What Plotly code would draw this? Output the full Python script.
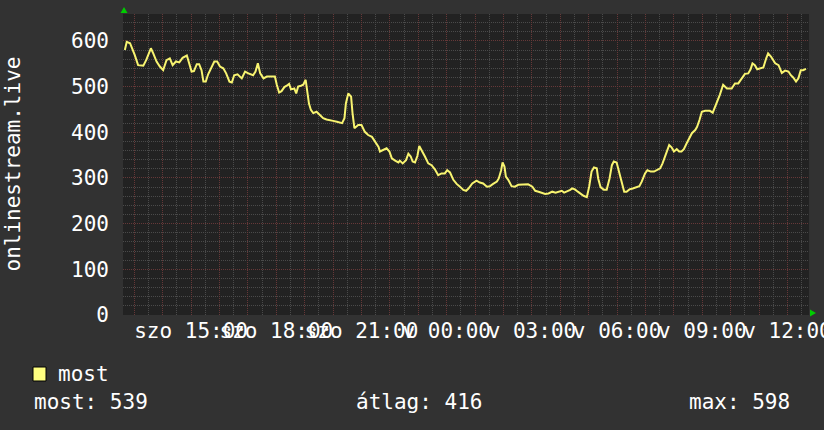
import plotly.graph_objects as go

# minutes since Saturday 12:00
minutes = [40, 44, 51, 57, 61, 68, 79, 85, 90, 95, 100, 107, 114, 121, 128, 135, 141, 148, 155, 162,
           171, 176, 181, 186, 192, 197, 202, 206, 211, 216, 224, 229, 235, 241, 248, 254, 261, 266, 271, 278,
           287, 294, 301, 311, 316, 321, 326, 333, 340, 349, 357, 361, 366, 371, 377, 382, 387, 391, 398, 402,
           406, 412, 417, 422, 426, 429, 433, 438, 445, 452, 459, 466, 473, 480, 488, 495, 499, 504, 507, 512,
           518, 521, 525, 533, 540, 547, 554, 562, 569, 576, 579, 586, 593, 599, 604, 611, 618, 621, 627, 634,
           639, 644, 648, 653, 658, 662, 667, 674, 681, 688, 695, 702, 709, 716, 721, 727, 734, 741, 748, 755,
           761, 766, 774, 783, 790, 797, 805, 811, 818, 826, 830, 835, 838, 842, 845, 850, 857, 864, 871, 882,
           892, 901, 907, 914, 922, 928, 935, 943, 950, 956, 963, 968, 974, 981, 985, 991, 997, 1002, 1009, 1016,
           1021, 1026, 1031, 1037, 1040, 1045, 1052, 1058, 1064, 1069, 1073, 1079, 1085, 1090, 1095, 1100, 1106, 1113, 1120, 1127,
           1132, 1139, 1144, 1151, 1158, 1165, 1171, 1176, 1181, 1186, 1190, 1195, 1200, 1206, 1211, 1216, 1221, 1227, 1232, 1238,
           1245, 1249, 1254, 1259, 1266, 1276, 1282, 1287, 1292, 1297, 1304, 1312, 1322, 1329, 1336, 1343, 1350, 1357, 1362, 1366,
           1371, 1376, 1383, 1389, 1395, 1399, 1405, 1409, 1414, 1421, 1428, 1435, 1442, 1447, 1452, 1458, 1463, 1468, 1473, 1479]

most = [580, 598, 595, 580, 569, 547, 546, 558, 573, 584, 573, 555, 544, 536, 558, 562, 547, 555, 553, 563,
        568, 551, 533, 534, 549, 549, 536, 511, 511, 527, 544, 555, 555, 544, 540, 529, 511, 509, 525, 527,
        518, 533, 529, 525, 533, 551, 529, 518, 522, 522, 522, 504, 487, 490, 499, 502, 506, 494, 496, 485,
        500, 502, 504, 515, 485, 463, 449, 442, 445, 438, 431, 428, 427, 425, 423, 420, 420, 431, 463, 485,
        478, 442, 409, 416, 416, 401, 394, 390, 379, 368, 358, 361, 365, 358, 343, 338, 334, 338, 332, 339,
        353, 347, 336, 334, 348, 370, 361, 347, 332, 328, 319, 306, 310, 310, 317, 312, 296, 287, 281, 274,
        272, 277, 288, 294, 290, 288, 281, 282, 287, 292, 299, 317, 334, 325, 303, 296, 282, 281, 285, 286,
        286, 281, 272, 270, 268, 265, 266, 270, 268, 270, 272, 268, 270, 274, 277, 275, 270, 266, 261, 258,
        281, 314, 323, 321, 299, 280, 274, 274, 299, 328, 336, 334, 310, 285, 270, 270, 275, 277, 280, 282,
        292, 310, 317, 314, 314, 317, 321, 332, 347, 358, 372, 367, 358, 363, 358, 358, 363, 376, 387, 398,
        405, 412, 427, 445, 447, 447, 443, 456, 467, 482, 504, 496, 496, 507, 507, 518, 528, 529, 538, 551,
        547, 538, 540, 542, 562, 573, 566, 558, 551, 547, 530, 535, 533, 525, 520, 511, 518, 536, 536, 539]

label_minutes = [180, 360, 540, 720, 900, 1080, 1260, 1440]
label_texts = ["szo 15:00", "szo 18:00", "szo 21:00", "v 00:00", "v 03:00", "v 06:00", "v 09:00", "v 12:00"]
y_ticks = [0, 100, 200, 300, 400, 500, 600]
y_title = "onlinestream.live"
legend_name = "most"
stat_texts = ["most: 539", "átlag: 416", "max: 598"]

W, H = 824, 430
L, R, T, B = 123, 809, 14, 315
FONT = "DejaVu Sans Mono"
BG = "#323232"
CANVAS = "#222222"
MAJ = "#663838"
MIN = "#4a4a4a"
LINE = "#f8f470"


def px(x):
    return (x - L) / (R - L)


def py(y):
    return (B - y) / (B - T)


hour_vals = list(range(60, 1441, 60))
hour_text = [label_texts[label_minutes.index(v)] if v in label_minutes else "" for v in hour_vals]
half_hours = list(range(30, 1500, 60))

fig = go.Figure()
fig.add_trace(go.Scatter(x=minutes, y=most, mode="lines", line=dict(color=LINE, width=2),
                         name=legend_name, showlegend=False, hoverinfo="skip"))

fig.update_layout(
    width=W, height=H,
    margin=dict(l=L, r=W - R, t=T, b=H - B, pad=0, autoexpand=False),
    paper_bgcolor=BG, plot_bgcolor=CANVAS,
    font=dict(family=FONT, size=21, color="#ffffff"),
    showlegend=False,
    xaxis=dict(range=[36.1, 1485.4], tickmode="array", tickvals=hour_vals, ticktext=hour_text,
               tickangle=0, showgrid=True, gridcolor=MAJ, griddash="1px,1px", gridwidth=1,
               ticks="", ticklabelstandoff=1, ticklabeloverflow="allow", automargin=False,
               zeroline=False, showline=False,
               tickfont=dict(family=FONT, size=21, color="#ffffff"),
               minor=dict(tickmode="array", tickvals=half_hours, showgrid=True, gridcolor=MIN,
                          griddash="1px,1px", gridwidth=1, ticks=""),
               fixedrange=True),
    yaxis=dict(range=[0, 659], tickmode="array", tickvals=y_ticks, ticktext=[str(v) for v in y_ticks],
               showgrid=True, gridcolor=MAJ, griddash="1px,1px", gridwidth=1,
               ticks="", ticklabelstandoff=13, zeroline=False, showline=False, automargin=False,
               tickfont=dict(family=FONT, size=21, color="#ffffff"),
               minor=dict(tickmode="array", tickvals=[v for v in range(20, 660, 20) if v % 100],
                          showgrid=True, gridcolor=MIN, griddash="1px,1px", gridwidth=1),
               fixedrange=True),
)

# y axis title
fig.add_annotation(text=y_title, xref="paper", yref="paper", x=px(12), y=py(164.5),
                   xanchor="center", yanchor="middle", textangle=-90, showarrow=False,
                   font=dict(family=FONT, size=21, color="#ffffff"))

# axis arrows (green)
fig.add_shape(type="path", xref="paper", yref="paper",
              path=f"M {px(120.5)} {py(13)} L {px(127.5)} {py(13)} L {px(124)} {py(7)} Z",
              fillcolor="#00cc00", line=dict(width=0))
fig.add_shape(type="path", xref="paper", yref="paper",
              path=f"M {px(810)} {py(309.5)} L {px(810)} {py(316.5)} L {px(816)} {py(313)} Z",
              fillcolor="#00cc00", line=dict(width=0))

# legend
fig.add_shape(type="rect", xref="paper", yref="paper", x0=px(33), x1=px(46), y0=py(381), y1=py(367),
              fillcolor="#ffff80", line=dict(color="#000000", width=1))
fig.add_annotation(text=legend_name, xref="paper", yref="paper", x=px(56), y=py(374),
                   xanchor="left", yanchor="middle", showarrow=False,
                   font=dict(family=FONT, size=21, color="#ffffff"))
for txt, xl in zip(stat_texts, [33, 355, 688]):
    fig.add_annotation(text=txt, xref="paper", yref="paper", x=px(xl - 1), y=py(402),
                       xanchor="left", yanchor="middle", showarrow=False,
                       font=dict(family=FONT, size=21, color="#ffffff"))

fig.write_html("out.html", config={"displayModeBar": False},
               post_script="document.body.style.margin='0';document.body.style.background='#323232';")
